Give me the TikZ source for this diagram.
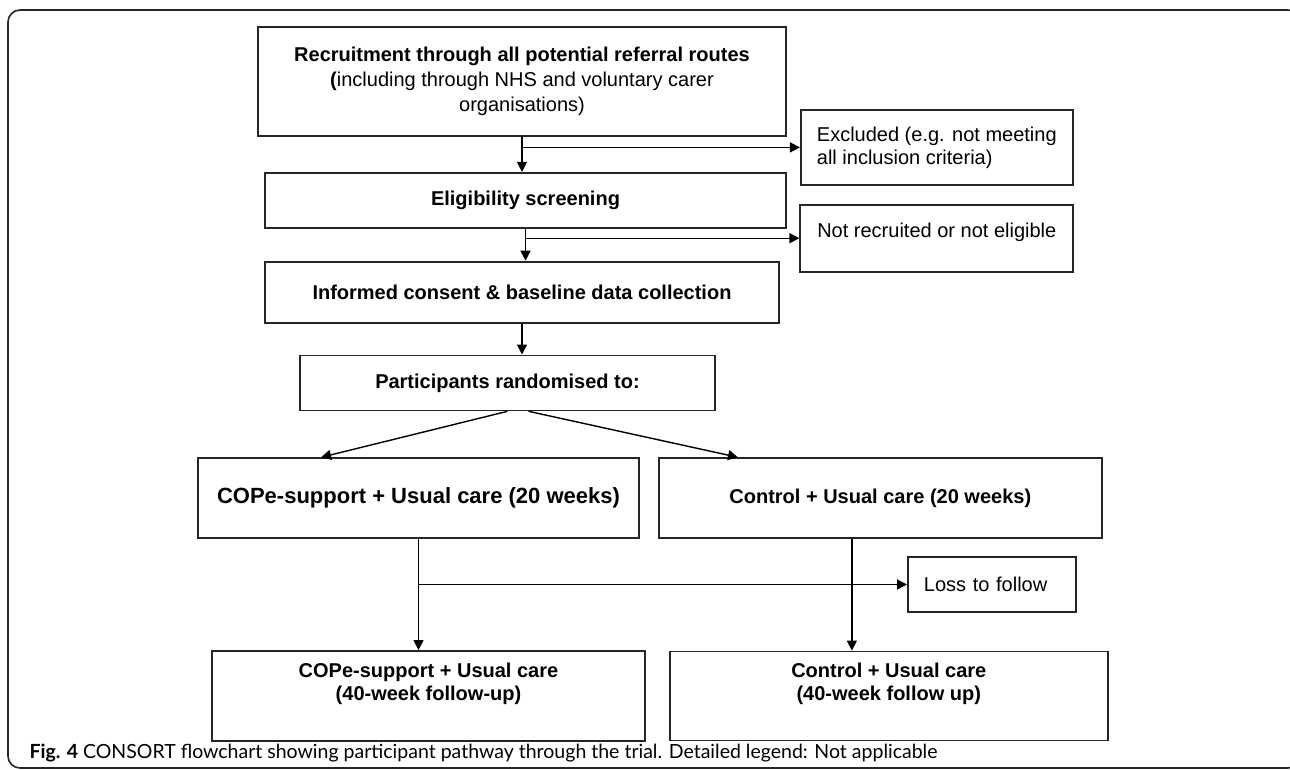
\documentclass[tikz,border=0pt]{standalone}
\usepackage{fontspec}
\setmainfont{Liberation Sans}
\newfontfamily\capfont{Lato}
\usetikzlibrary{arrows.meta,positioning,calc}

\begin{document}
\begin{tikzpicture}[
    x=1pt, y=-1pt,
    box/.style={rectangle, draw=black!85, line width=1.8pt, align=center, inner sep=4pt,
        font=\bfseries\fontsize{20}{25}\selectfont},
    sidebox/.style={rectangle, draw=black!85, line width=1.8pt, align=left, inner xsep=16pt,
        font=\fontsize{20}{23}\selectfont},
    boxtext/.style={align=center, font=\bfseries\fontsize{20}{23}\selectfont},
    arrow/.style={-{Triangle[length=10pt,width=10pt]}, line width=1.4pt}
]

\useasboundingbox (0,0) rectangle (1290,770);
\clip (0,0) rectangle (1290,770);
\draw[line width=1.6pt, rounded corners=12pt, draw=black!85] (8,10) rectangle (1300,768);

\node[box, minimum width=528pt, minimum height=109pt] (recruit) at (522,81.5)
    {Recruitment through all potential referral routes\\
     \textbf{(}\textmd{including through NHS and voluntary carer}\\
     \textmd{organisations)}};
\node[sidebox, minimum width=272pt, minimum height=75pt, right=13pt of recruit.south east, yshift=-10.5pt] (excl)
    {Excluded (e.g. not meeting\\all inclusion criteria)};
\node[box, minimum width=521pt, minimum height=55pt, below=35pt of recruit, xshift=3.5pt] (elig) {Eligibility screening};
\node[sidebox, minimum width=273pt, minimum height=67pt, below=18pt of excl] (notrec)
    {Not recruited or not eligible\\[-8pt]};
\node[box, minimum width=514pt, minimum height=61pt, below=32pt of elig, xshift=-3.5pt] (informed)
    {Informed consent \& baseline data collection};
\node[box, minimum width=415pt, minimum height=55pt, below=31pt of informed, xshift=-14.5pt] (particip)
    {Participants randomised to:};

% the two arms
\node[box, minimum width=441pt, minimum height=80pt, below=46pt of particip, xshift=-89pt,
    font=\bfseries\fontsize{22}{27}\selectfont] (cope) {COPe-support + Usual care (20 weeks)};
\node[box, minimum width=443pt, minimum height=80pt, right=18pt of cope] (ctrl) {Control + Usual care (20 weeks)};
\node[sidebox, text width=136pt, minimum height=55pt, anchor=west] (loss) at (907,584.5) {Loss to follow};
\node[box, minimum width=433pt, minimum height=90pt, below=111pt of cope, xshift=10pt,
    label={[boxtext, yshift=12pt]center:COPe-support + Usual care\\(40-week follow-up)}] (copefu) {};
\node[box, minimum width=438pt, minimum height=89pt, right=23pt of copefu,
    label={[boxtext, yshift=12pt]center:Control + Usual care\\(40-week follow up)}] (ctrlfu) {};

\draw[arrow] (recruit.south) -- (recruit.south |- elig.north);
\draw[arrow] (recruit.south |- excl.west) -- (excl.west);
\draw[arrow] (elig.south) -- (elig.south |- informed.north);
\draw[arrow] (elig.south |- notrec.west) -- (notrec.west);
\draw[arrow] (informed.south) -- (informed.south |- particip.north);
\draw[arrow] (particip.south) -- ($(cope.north west)!0.28!(cope.north east)$);
\draw[arrow] ($(particip.south)+(21,0)$) -- ($(ctrl.north west)!0.18!(ctrl.north east)$);
\draw[arrow] (cope.south) -- (cope.south |- copefu.north);
\draw[arrow] (cope.south |- loss.west) -- (loss.west);
\coordinate (ctrlout) at ($(ctrl.south west)!0.436!(ctrl.south east)$);
\draw[arrow] (ctrlout) -- (ctrlout |- ctrlfu.north);

\node[anchor=base west, font=\capfont\fontsize{19.5}{22}\selectfont] (caption) at (26,758)
    {\textbf{Fig. 4} CONSORT flowchart showing participant pathway through the trial. Detailed legend: Not applicable};

\end{tikzpicture}
\end{document}
